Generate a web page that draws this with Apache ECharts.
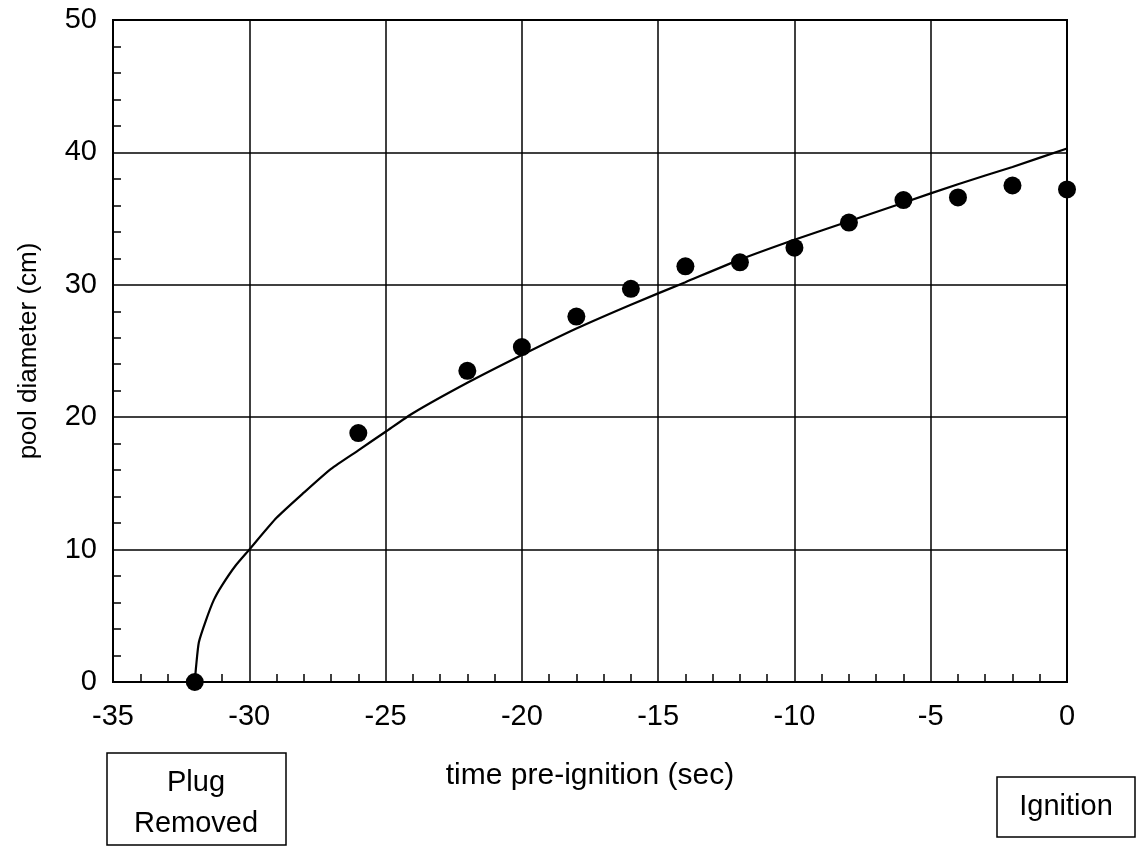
<!DOCTYPE html>
<html>
<head>
<meta charset="utf-8">
<script src="https://cdn.jsdelivr.net/npm/echarts@6/dist/echarts.min.js"></script>
<style>html,body{margin:0;padding:0;background:#fff;}#c{width:1137px;height:847px;}</style>
</head>
<body>
<div id="c"></div>
<script>
// measured points: time (s), pool diameter (cm)
var pointTimes = [-32, -26, -22, -20, -18, -16, -14, -12, -10, -8, -6, -4, -2, 0];
var pointDiam  = [0, 18.8, 23.5, 25.3, 27.6, 29.7, 31.4, 31.7, 32.8, 34.7, 36.4, 36.6, 37.5, 37.2];
// fitted curve
var curveTimes = [-32, -31.95, -31.85, -31.6, -31.3, -31, -30.5, -30, -29, -28, -27, -26, -25, -24, -22, -20, -18, -16, -14, -12, -10, -8, -6, -4, -2, 0];
var curveDiam  = [0, 1.2, 3.0, 4.6, 6.2, 7.3, 8.8, 10.0, 12.4, 14.3, 16.1, 17.5, 18.9, 20.3, 22.6, 24.7, 26.7, 28.5, 30.2, 31.9, 33.4, 34.8, 36.2, 37.6, 38.9, 40.3];
var xTicks = {min: -35, max: 0, step: 5};
var yTicks = {min: 0, max: 50, step: 10};

function zip(a, b) { return a.map(function (v, i) { return [v, b[i]]; }); }

var FONT = 'Liberation Sans, Arial, sans-serif';
var chart = echarts.init(document.getElementById('c'), null, {renderer: 'canvas'});
chart.setOption({
  animation: false,
  backgroundColor: '#fff',
  grid: {left: 113, right: 70, top: 20, bottom: 165, show: true, borderColor: '#000', borderWidth: 2,
         backgroundColor: 'transparent', containLabel: false, outerBoundsMode: 'none'},
  xAxis: {
    type: 'value', min: xTicks.min, max: xTicks.max, interval: xTicks.step,
    name: 'time pre-ignition (sec)', nameLocation: 'middle', nameGap: 79,
    nameTextStyle: {fontFamily: FONT, fontSize: 30, color: '#000'},
    axisLine: {show: true, onZero: false, lineStyle: {color: '#000', width: 2}},
    axisTick: {show: false, inside: true},
    minorTick: {show: true, splitNumber: 5, length: 8, lineStyle: {color: '#000', width: 1.5}},
    splitLine: {show: true, lineStyle: {color: '#000', width: 1.5}},
    axisLabel: {fontFamily: FONT, fontSize: 29, color: '#000', margin: 20}
  },
  yAxis: {
    type: 'value', min: yTicks.min, max: yTicks.max, interval: yTicks.step,
    name: 'pool diameter (cm)', nameLocation: 'middle', nameGap: 71,
    nameTextStyle: {fontFamily: FONT, fontSize: 26, color: '#000'},
    axisLine: {show: true, onZero: false, lineStyle: {color: '#000', width: 2}},
    axisTick: {show: false, inside: true},
    minorTick: {show: true, splitNumber: 5, length: 8, lineStyle: {color: '#000', width: 1.5}},
    splitLine: {show: true, lineStyle: {color: '#000', width: 1.5}},
    axisLabel: {fontFamily: FONT, fontSize: 29, color: '#000', margin: 16}
  },
  series: [
    {type: 'line', data: zip(curveTimes, curveDiam), showSymbol: false, smooth: 0.2,
     lineStyle: {color: '#000', width: 2.2}, z: 3, clip: false},
    {type: 'scatter', data: zip(pointTimes, pointDiam), symbol: 'circle', symbolSize: 18,
     itemStyle: {color: '#000', opacity: 1}, z: 4, clip: false}
  ],
  graphic: [
    {type: 'rect', shape: {x: 107, y: 753, width: 179, height: 92}, style: {fill: '#fff', stroke: '#000', lineWidth: 1.5}},
    {type: 'text', style: {text: 'Plug\nRemoved', x: 196, y: 803, align: 'center', verticalAlign: 'middle', font: '29px ' + FONT, lineHeight: 41, fill: '#000'}},
    {type: 'rect', shape: {x: 997, y: 777, width: 138, height: 60}, style: {fill: '#fff', stroke: '#000', lineWidth: 1.5}},
    {type: 'text', style: {text: 'Ignition', x: 1066, y: 807, align: 'center', verticalAlign: 'middle', font: '29px ' + FONT, fill: '#000'}}
  ]
});
</script>
</body>
</html>
